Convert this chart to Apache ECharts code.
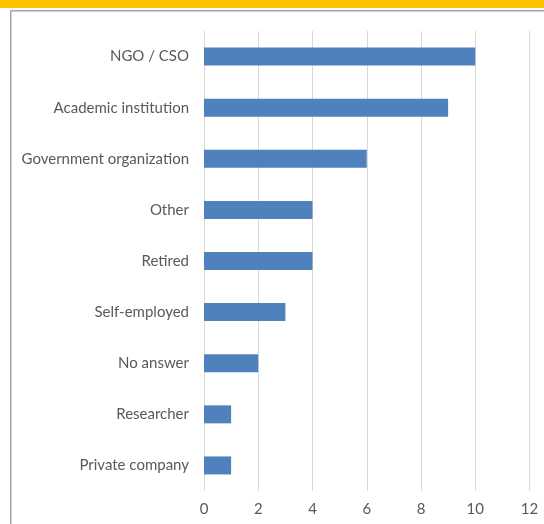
<!DOCTYPE html>
<html>
<head>
<meta charset="utf-8">
<script src="https://cdn.jsdelivr.net/npm/echarts@6/dist/echarts.min.js"></script>
<style>
  html, body { margin: 0; padding: 0; background: #fff; }
  #strip { position: absolute; left: 0; top: 0; width: 544px; height: 8px; background: #ffc000; }
  #frame { position: absolute; left: 10px; top: 10px; width: 600px; height: 600px;
           border-left: 1px solid #a6a6a6; border-top: 1px solid #a6a6a6; }
  #frame2 { position: absolute; left: 11px; top: 11px; width: 600px; height: 600px;
           border-left: 1px solid #cfcfcf; border-top: 1px solid #cfcfcf; }
  #main { position: absolute; left: 0; top: 0; width: 544px; height: 524px; }
</style>
</head>
<body>
<div id="strip"></div>
<div id="frame"></div>
<div id="frame2"></div>
<div id="main"></div>
<script>
// categories, bottom to top
var categories = ['Private company', 'Researcher', 'No answer', 'Self-employed', 'Retired',
                  'Other', 'Government organization', 'Academic institution', 'NGO / CSO'];
var counts = [1, 1, 2, 3, 4, 4, 6, 9, 10];

var chart = echarts.init(document.getElementById('main'));
var option = {
    animation: false,
    grid: { left: 204, right: 14.5, top: 31, bottom: 33 },
    xAxis: {
        type: 'value',
        min: 0,
        max: 12,
        interval: 2,
        axisLine: { show: false },
        axisTick: { show: false },
        splitLine: { lineStyle: { color: '#d9d9d9', width: 1 } },
        axisLabel: { color: '#595959', fontSize: 15, fontFamily: 'Lato', margin: 11 }
    },
    yAxis: {
        type: 'category',
        data: categories,
        axisLine: { show: false },
        axisTick: { show: false },
        axisLabel: { color: '#595959', fontSize: 15, fontFamily: 'Lato', margin: 15 }
    },
    series: [{
        type: 'bar',
        data: counts,
        barWidth: 18,
        itemStyle: { color: '#4f81bd' }
    }]
};
chart.setOption(option);
</script>
</body>
</html>
